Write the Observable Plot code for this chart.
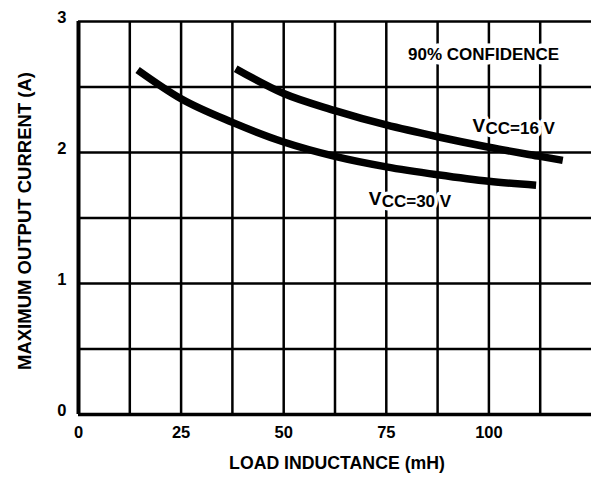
<!DOCTYPE html>
<html>
<head>
<meta charset="utf-8">
<script src="https://cdn.jsdelivr.net/npm/d3@7"></script>
<script src="https://cdn.jsdelivr.net/npm/@observablehq/plot@0.6"></script>
<style>
  html, body { margin: 0; padding: 0; background: #fff; }
  #chart { width: 591px; height: 480px; }
</style>
</head>
<body>
<div id="chart"></div>
<script>
// ---- data ----
const inductance16 = [38.3, 50, 62.5, 75, 87.5, 100, 112.5, 118];
const current16    = [2.64, 2.45, 2.32, 2.21, 2.12, 2.04, 1.97, 1.94];
const inductance30 = [14.4, 25, 37.5, 50, 62.5, 75, 87.5, 100, 111.5];
const current30    = [2.63, 2.41, 2.23, 2.08, 1.97, 1.89, 1.83, 1.78, 1.75];

const xTicks = [0, 25, 50, 75, 100];
const yTicks = [0, 1, 2, 3];
const xGrid = [12.5, 25, 37.5, 50, 62.5, 75, 87.5, 100, 112.5];
const yGrid = [0.5, 1, 1.5, 2, 2.5, 3];

const xLabel = "LOAD INDUCTANCE (mH)";
const yLabel = "MAXIMUM OUTPUT CURRENT (A)";
const noteText = "90% CONFIDENCE";
const seriesLabels = [
  {x: 96.0, y: 2.206, sub: "CC=16 V"},
  {x: 70.7, y: 1.649, sub: "CC=30 V"}
];
const notes = [{x: 98.7, y: 2.748, text: noteText}];

const s16 = inductance16.map((x, i) => ({x, y: current16[i]}));
const s30 = inductance30.map((x, i) => ({x, y: current30[i]}));

const font = "'Liberation Sans', Arial, Helvetica, sans-serif";

const chart = Plot.plot({
  width: 591,
  height: 480,
  marginLeft: 78,
  marginRight: 0,
  marginTop: 21,
  marginBottom: 66,
  style: {fontFamily: font, fontWeight: "bold", background: "white", color: "black", overflow: "visible"},
  x: {domain: [0, 125]},
  y: {domain: [0, 3]},
  marks: [
    Plot.ruleY(yGrid, {stroke: "black", strokeWidth: 2.5}),
    Plot.ruleY([0], {stroke: "black", strokeWidth: 3.5}),
    Plot.ruleX(xGrid, {y1: 0, y2: 3, stroke: "black", strokeWidth: 2.5}),
    Plot.ruleX([0], {y1: 0, y2: 3, stroke: "black", strokeWidth: 4}),
    Plot.line(s16, {x: "x", y: "y", curve: "monotone-x", stroke: "black", strokeWidth: 7.5, strokeLinecap: "butt"}),
    Plot.line(s30, {x: "x", y: "y", curve: "monotone-x", stroke: "black", strokeWidth: 7.5, strokeLinecap: "butt"}),
    Plot.text(notes, {x: "x", y: "y", text: "text", fontSize: 17, fontWeight: "bold", fill: "black", stroke: "white", strokeWidth: 9, textAnchor: "middle"}),
    Plot.text(seriesLabels, {x: "x", y: "y", text: d => "V", fontSize: 19, fontWeight: "bold", fill: "black", stroke: "white", strokeWidth: 7, textAnchor: "start"}),
    Plot.text(seriesLabels, {x: "x", y: "y", text: "sub", fontSize: 17, fontWeight: "bold", fill: "black", stroke: "white", strokeWidth: 7, textAnchor: "start", dx: 13, dy: 3}),
    Plot.axisX(xTicks, {tickSize: 0, tickPadding: 12, fontSize: 16.5, fontWeight: "bold", label: null, tickFormat: d => String(d)}),
    Plot.axisY(yTicks, {tickSize: 0, tickPadding: 12, dy: -4, fontSize: 16.5, fontWeight: "bold", label: null, tickFormat: d => String(d)}),
    Plot.text([xLabel], {frameAnchor: "bottom", text: d => d, dy: 54, dx: 2, fontSize: 17.7, fontWeight: "bold", fill: "black"}),
    Plot.text([yLabel], {frameAnchor: "left", textAnchor: "middle", text: d => d, rotate: -90, dx: -53, dy: 3, fontSize: 18.5, fontWeight: "bold", fill: "black"})
  ]
});
document.getElementById("chart").appendChild(chart);
</script>
</body>
</html>
